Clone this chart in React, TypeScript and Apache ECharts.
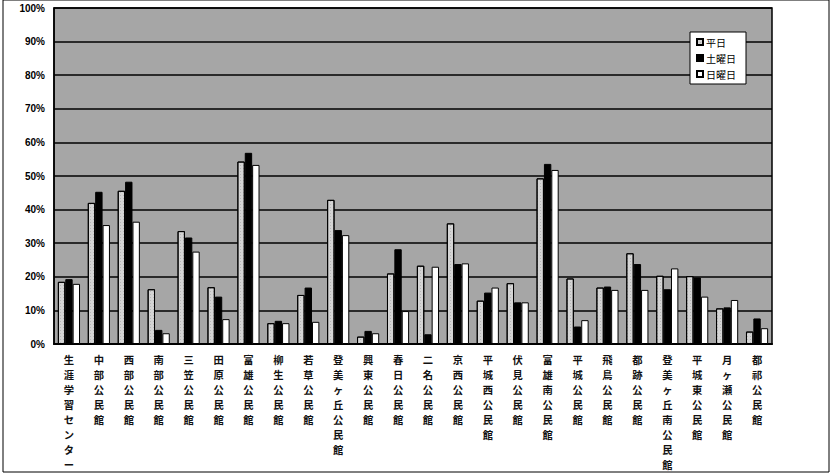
import React, { useEffect, useRef } from "react";
import * as echarts from "echarts";

const categories = [
  "生涯学習センター", "中部公民館", "西部公民館", "南部公民館", "三笠公民館", "田原公民館",
  "富雄公民館", "柳生公民館", "若草公民館", "登美ヶ丘公民館", "興東公民館", "春日公民館",
  "二名公民館", "京西公民館", "平城西公民館", "伏見公民館", "富雄南公民館", "平城公民館",
  "飛鳥公民館", "都跡公民館", "登美ヶ丘南公民館", "平城東公民館", "月ヶ瀬公民館", "都祁公民館",
];
const weekday = [18.5, 42, 45.6, 16.3, 33.6, 16.9, 54.3, 6.2, 14.6, 42.9, 2.2, 21, 23.3, 35.9, 12.9, 18.1, 49.3, 19.5, 16.8, 27, 20.3, 20.2, 10.6, 3.7];
const saturday = [19.3, 45.3, 48.3, 4.2, 31.7, 14.1, 56.9, 6.9, 16.8, 33.9, 3.9, 28.2, 2.9, 23.8, 15.3, 12.4, 53.6, 5.2, 17.1, 23.8, 16.3, 19.8, 10.9, 7.6];
const sunday = [17.9, 35.4, 36.4, 3.2, 27.5, 7.4, 53.3, 6.2, 6.6, 32.4, 3.2, 9.8, 23, 24, 16.8, 12.4, 51.8, 7.1, 16.1, 16.1, 22.5, 14.1, 13.1, 4.7];
const seriesNames = ["平日", "土曜日", "日曜日"];

export default function App() {
  const ref = useRef<HTMLDivElement>(null);
  useEffect(() => {
    if (!ref.current) return;
    const chart = echarts.init(ref.current, null, { renderer: "svg" });
    const font = "'Noto Sans CJK JP', sans-serif";
    const barBase = { type: "bar" as const, barGap: "0%", barCategoryGap: "26%" };
    chart.setOption({
      animation: false,
      backgroundColor: "#ffffff",
      grid: {
        left: 54, right: 62, top: 8, bottom: 132,
        show: true, backgroundColor: "#a6a6a6", borderColor: "#000", borderWidth: 1.5,
      },
      legend: {
        orient: "vertical",
        right: 88, top: 32,
        data: seriesNames,
        backgroundColor: "#ffffff",
        borderColor: "#000",
        borderWidth: 1,
        padding: [5, 10, 5, 6],
        itemGap: 6,
        itemWidth: 6, itemHeight: 6,
        icon: "rect",
        textStyle: { fontSize: 10, fontFamily: font, color: "#000", padding: [0, 0, 0, -2] },
      },
      xAxis: {
        type: "category",
        data: categories,
        axisLine: { lineStyle: { color: "#000", width: 2 } },
        axisTick: { show: false },
        axisLabel: {
          interval: 0,
          margin: 8,
          fontSize: 10.3,
          lineHeight: 15,
          fontWeight: "bold",
          color: "#111",
          fontFamily: font,
          formatter: (v: string) => v.split("").join("\n"),
        },
      },
      yAxis: {
        type: "value",
        min: 0, max: 100, interval: 10,
        axisLine: { show: true, lineStyle: { color: "#000", width: 1.5 } },
        axisTick: { show: false },
        axisLabel: {
          formatter: "{value}%", fontSize: 10, fontWeight: "bold", color: "#000",
          fontFamily: "'Liberation Sans', Arial, sans-serif", margin: 9,
        },
        splitLine: { lineStyle: { color: "#000", width: 1.5 } },
      },
      series: [
        {
          ...barBase, name: seriesNames[0], data: weekday,
          itemStyle: {
            color: "#d4d4d4", borderColor: "#000", borderWidth: 1,
            decal: { symbol: "rect", symbolSize: 0.6, color: "rgba(0,0,0,0.45)", dashArrayX: [1, 2], dashArrayY: [1, 2], rotation: 0 },
          },
        },
        { ...barBase, name: seriesNames[1], data: saturday, itemStyle: { color: "#000", borderColor: "#000", borderWidth: 1 } },
        { ...barBase, name: seriesNames[2], data: sunday, itemStyle: { color: "#fff", borderColor: "#000", borderWidth: 1 } },
      ],
      graphic: [
        { type: "rect", shape: { x: 3, y: 0, width: 826, height: 472 }, style: { fill: "none", stroke: "#000", lineWidth: 1 }, silent: true },
      ],
    });
    return () => chart.dispose();
  }, []);
  return <div ref={ref} style={{ width: 834, height: 476, position: "absolute", left: 0, top: 0 }} />;
}
